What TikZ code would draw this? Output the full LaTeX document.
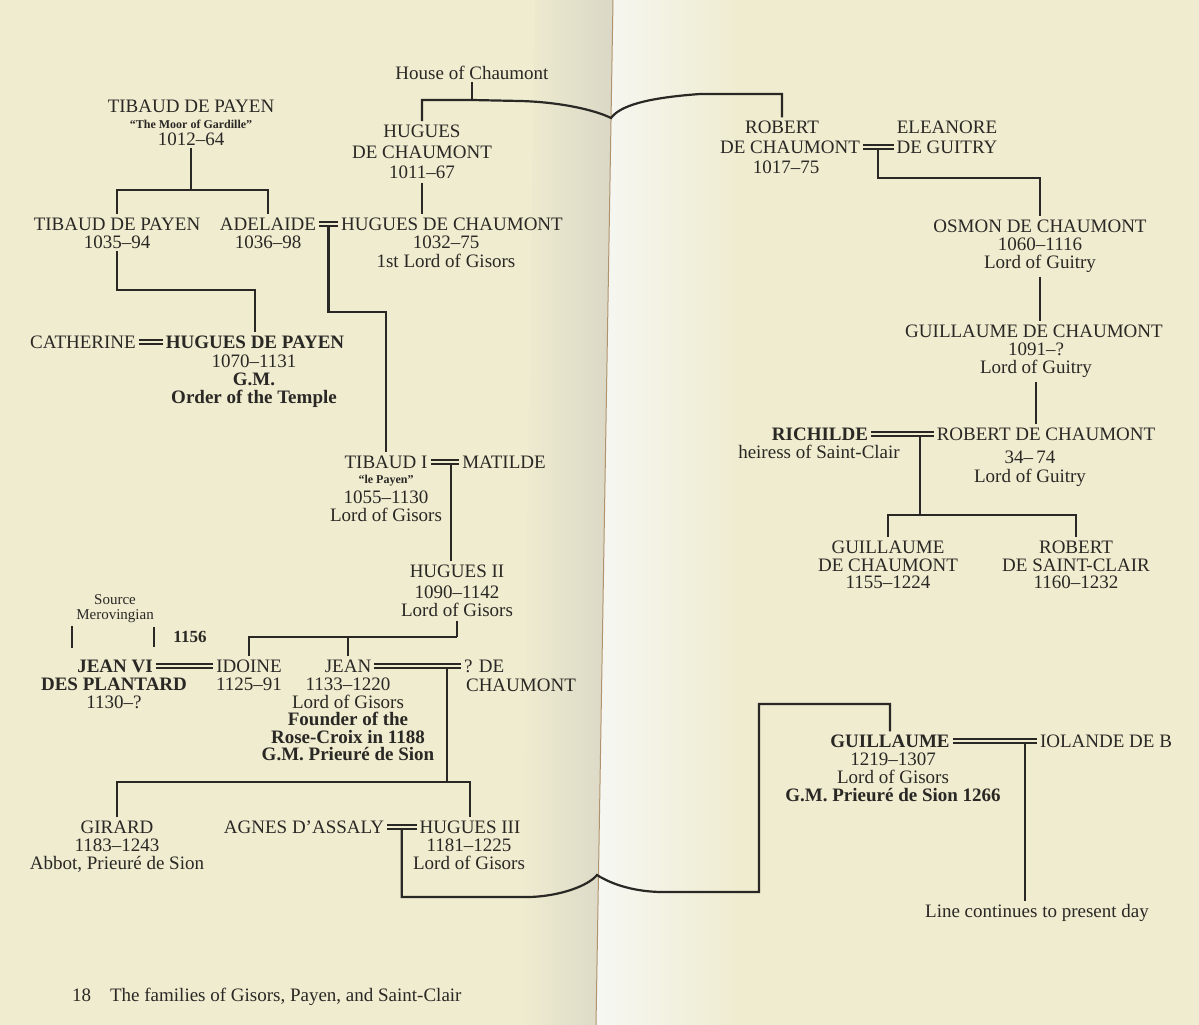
\documentclass[tikz,border=0pt]{standalone}
\usepackage{fontspec}
\setmainfont{Liberation Serif}
\usetikzlibrary{calc}
\definecolor{page}{RGB}{239,236,208}
\definecolor{foldL}{RGB}{218,216,198}
\definecolor{foldR}{RGB}{246,247,243}
\definecolor{fold}{RGB}{176,146,108}
\definecolor{ink}{RGB}{42,40,36}
\begin{document}
\begin{tikzpicture}
  [x=1pt, y=-1pt, color=ink, line width=2.2pt]
  \tikzstyle{person} = [anchor=base, inner sep=2pt, text height=12.5pt, text depth=0pt, font=\fontsize{19}{19}\selectfont];
  \tikzstyle{bold_person} = [person, font=\fontsize{19}{19}\selectfont\bfseries];
  \tikzstyle{small_note} = [anchor=base, inner sep=1pt, font=\fontsize{12}{12}\selectfont\bfseries];
  \tikzstyle{info} = [anchor=north, align=center, inner sep=3pt, font=\fontsize{19}{18}\selectfont];
  \tikzstyle{marry} = [double=page, double distance=2pt, line width=2pt];

  \useasboundingbox (0,0) rectangle (1199,1025);
  \fill[page] (0,0) rectangle (1199,1025);
  \shade[left color=page, right color=foldL] (535,0) -- (613,0) -- (596,1025) -- (520,1025) -- cycle;
  \shade[left color=foldR, right color=page] (613,0) -- (740,0) -- (740,1025) -- (596,1025) -- cycle;
  \draw[fold, line width=1pt] (613,0) -- (596,1025);

  \node[person] (house) at (472,79) {House of Chaumont};

  \node[person] (tibA) at (191,112) {TIBAUD DE PAYEN};
  \node[small_note] (moor) at (191,128) {``The Moor of Gardille''};
  \node[person] (tibAyr) at (191,145) {1012--64};
  \node[info, font=\fontsize{19}{20.5}\selectfont] (hcA) at (422,121) {HUGUES\\DE CHAUMONT\\1011--67};

  \node[person] (tibB) at (117,230) {TIBAUD DE PAYEN};
  \node[person] (tibByr) at (117,248) {1035--94};
  \node[person] (adel) at (268,230) {ADELAIDE};
  \node[person] (adelyr) at (268,248) {1036--98};
  \node[person] (hcB) at (452,230) {HUGUES DE CHAUMONT};
  \node[info, font=\fontsize{19}{19}\selectfont] (hcBinfo) at (446,232) {1032--75\\1st Lord of Gisors};

  \node[person] (cath) at (83,348) {CATHERINE};
  \node[bold_person] (hp) at (255,348) {HUGUES DE PAYEN};
  \node[info] (hpinfo) at (254,351) {1070--1131\\\textbf{G.M.}\\\textbf{Order of the Temple}};

  \node[person] (tib1) at (386,468) {TIBAUD I};
  \node[person] (matilde) at (504,468) {MATILDE};
  \node[small_note] (lepayen) at (386,483) {``le Payen''};
  \node[info, font=\fontsize{19}{17.5}\selectfont] (tib1info) at (386,487) {1055--1130\\Lord of Gisors};

  \node[person] (hug2) at (457,577) {HUGUES II};
  \node[info, font=\fontsize{19}{17.5}\selectfont] (hug2info) at (457,582) {1090--1142\\Lord of Gisors};

  \node[info, font=\fontsize{15}{15}\selectfont] (source) at (115,590) {Source\\Merovingian};
  \node[person, font=\fontsize{17}{17}\selectfont\bfseries] (num) at (190,642) {1156};

  \node[bold_person] (jean6) at (115,672) {JEAN VI};
  \node[info, font=\fontsize{19}{17.5}\selectfont] (jean6info) at (114,674) {\textbf{DES PLANTARD}\\1130--?};
  \node[person] (idoine) at (249,672) {IDOINE};
  \node[person] (idoineyr) at (249,690) {1125--91};
  \node[person] (jean) at (348,672) {JEAN};
  \node[info, font=\fontsize{19}{17.5}\selectfont] (jeaninfo) at (348,674) {1133--1220\\Lord of Gisors\\\textbf{Founder of the}\\\textbf{Rose-Croix in 1188}\\\textbf{G.M. Prieuré de Sion}};
  \node[person, anchor=base west] (dech) at (461,672) {? DE};
  \node[person, anchor=base west] (chau) at (463,691) {CHAUMONT};

  \node[person] (girard) at (117,833) {GIRARD};
  \node[info, font=\fontsize{19}{17.5}\selectfont] (girardinfo) at (117,835) {1183--1243\\Abbot, Prieuré de Sion};
  \node[person] (agnes) at (304,833) {AGNES D'ASSALY};
  \node[person] (hug3) at (470,833) {HUGUES III};
  \node[info, font=\fontsize{19}{17.5}\selectfont] (hug3info) at (469,835) {1181--1225\\Lord of Gisors};

  \node[person, anchor=base west] (footer) at (69,1001) {18\quad The families of Gisors, Payen, and Saint-Clair};

  \node[person] (robT) at (782,133) {ROBERT};
  \node[person] (robC) at (790,153) {DE CHAUMONT};
  \node[person] (robyr) at (786,173) {1017--75};
  \node[person] (ele) at (947,133) {ELEANORE};
  \node[person] (eleG) at (947,153) {DE GUITRY};

  \node[person] (osmon) at (1040,232) {OSMON DE CHAUMONT};
  \node[info] (osmoninfo) at (1040,234) {1060--1116\\Lord of Guitry};
  \node[person] (guil) at (1034,337) {GUILLAUME DE CHAUMONT};
  \node[info] (guilinfo) at (1036,339) {1091--?\\Lord of Guitry};

  \node[bold_person] (richilde) at (820,440) {RICHILDE};
  \node[person] (heiress) at (819,458) {heiress of Saint-Clair};
  \node[person] (robDC) at (1046,440) {ROBERT DE CHAUMONT};
  \node[info, font=\fontsize{19}{19}\selectfont] (robDCinfo) at (1030,447) {34--\,74\\Lord of Guitry};

  \node[info, font=\fontsize{19}{17.5}\selectfont] (guilC) at (888,537) {GUILLAUME\\DE CHAUMONT\\1155--1224};
  \node[info, font=\fontsize{19}{17.5}\selectfont] (robSC) at (1076,537) {ROBERT\\DE SAINT-CLAIR\\1160--1232};

  \node[bold_person] (guil2) at (890,747) {GUILLAUME};
  \node[person] (iolande) at (1106,747) {IOLANDE DE B};
  \node[info] (guil2info) at (893,749) {1219--1307\\Lord of Gisors\\\textbf{G.M. Prieuré de Sion 1266}};
  \node[person] (cont) at (1037,917) {Line continues to present day};

  \coordinate (houseJ) at (472,100);
  \coordinate (gutT) at (611,118);
  \coordinate (gutB) at (597,875);
  \coordinate (tibAJ) at (191,190);
  \coordinate (srcB) at (154,627);
  \coordinate (m1) at ($(adel.east)!0.5!(hcB.west)$);
  \coordinate (m2) at ($(tib1.east)!0.7!(matilde.west)$);
  \coordinate (m4) at ($(jean.east)!0.84!(dech.west)$);
  \coordinate (m5) at ($(agnes.east)!0.5!(hug3.west)$);
  \coordinate (m6) at ($(robC.east)!0.5!(eleG.west)$);
  \coordinate (m7) at ($(richilde.east)!0.78!(robDC.west)$);
  \coordinate (m8) at ($(guil2.east)!0.86!(iolande.west)$);
  \coordinate (j3) at (hug2info.south |- 0,637);
  \coordinate (j4) at (m4 |- 0,782);
  \coordinate (j7) at (m7 |- 0,515);

  \draw (house.south) -- (houseJ);
  \draw (hcA.north) |- (houseJ) -- (520,101) .. controls (560,102) and (595,110) .. (gutT)
    .. controls (620,106) and (645,98) .. (700,94) -| (robT.north);
  \draw (tibAyr.south) -- (tibAJ);
  \draw (tibB.north) |- (tibAJ) -| (adel.north);
  \draw (hcA.south) -- (hcA.south |- hcB.north);
  \draw (tibByr.south) |- (hp.north |- 0,290) -- (hp.north);
  \draw (m1) |- (tib1.north |- 0,312) -- (tib1.north);
  \draw (m2) -- (m2 |- hug2.north);
  \draw (hug2info.south) -- (j3);
  \draw (idoine.north) |- (j3);
  \draw (jean.north) -- (jean.north |- j3);
  \draw (source.south west) -- ++(0,22);
  \draw (srcB) -- ++(0,20);
  \draw (m4) -- (j4);
  \draw (girard.north) |- (j4) -| (hug3.north);
  \draw (m5) |- (530,897) .. controls (560,896) and (588,886) .. (gutB)
    .. controls (605,880) and (625,891) .. (660,892) -| (759,704) -| (guil2.north);

  \draw (m6) |- (osmon.north |- 0,178) -- (osmon.north);
  \draw (osmoninfo.south) -- (osmoninfo.south |- guil.north);
  \draw (guilinfo.south) -- (guilinfo.south |- robDC.north);
  \draw (m7) -- (j7);
  \draw (guilC.north) |- (j7) -| (robSC.north);
  \draw (m8) -- (m8 |- cont.north);

  \draw[marry] (adel.east) -- (hcB.west);
  \draw[marry] (cath.east) -- (hp.west);
  \draw[marry] (tib1.east) -- (matilde.west);
  \draw[marry] (jean6.east) -- (idoine.west);
  \draw[marry] (jean.east) -- (dech.west);
  \draw[marry] (agnes.east) -- (hug3.west);
  \draw[marry] (robC.east) -- (eleG.west);
  \draw[marry] (richilde.east) -- (robDC.west);
  \draw[marry] (guil2.east) -- (iolande.west);

\end{tikzpicture}
\end{document}
